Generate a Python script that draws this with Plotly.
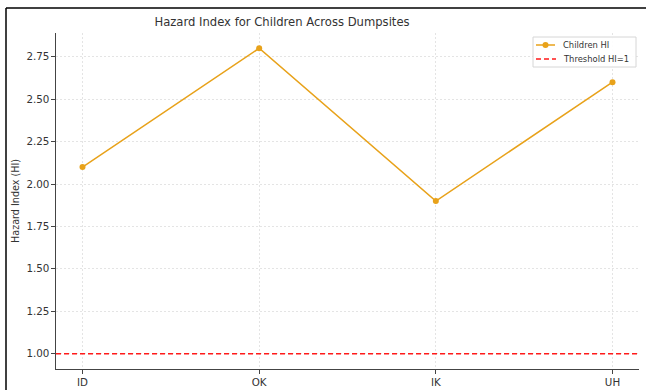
import plotly.graph_objects as go

sites = ["ID", "OK", "IK", "UH"]
children_hi = [2.1, 2.8, 1.9, 2.6]
threshold = 1.0
y_ticks = [1.00, 1.25, 1.50, 1.75, 2.00, 2.25, 2.50, 2.75]
legend_labels = ["Children HI", "Threshold HI=1"]

W, H = 646, 390
ml, mr, mt, mb = 56, 7, 33, 21
pw, ph = W - ml - mr, H - mt - mb

ORANGE = "#E8A21A"
RED = "#FF1A1A"


def px(x):
    return (x - ml) / pw


def py(y):
    return 1 - (y - mt) / ph


xs = list(range(len(sites)))

fig = go.Figure()
fig.add_trace(go.Scatter(
    x=xs, y=children_hi, mode="lines+markers", name=legend_labels[0],
    line=dict(color=ORANGE, width=1.5),
    marker=dict(color=ORANGE, size=6),
    showlegend=False,
))
fig.add_hline(y=threshold, layer="above",
              line=dict(color=RED, width=1.6, dash="5px,3px"))

# figure frame (left and top edges)
fx, fy = px(6), py(8)
fig.add_shape(type="line", xref="paper", yref="paper", x0=fx, x1=fx, y0=fy, y1=-0.2,
              line=dict(color="black", width=1.5))
fig.add_shape(type="line", xref="paper", yref="paper", x0=fx, x1=1.2, y0=fy, y1=fy,
              line=dict(color="black", width=1.5))

# legend (drawn manually to match compact layout)
fig.add_shape(type="rect", xref="paper", yref="paper",
              x0=px(533), x1=px(636), y0=py(37), y1=py(67),
              line=dict(color="#d6d6d6", width=1), fillcolor="rgba(255,255,255,0.9)")
fig.add_shape(type="line", xref="paper", yref="paper",
              x0=px(536), x1=px(555), y0=py(45), y1=py(45),
              line=dict(color=ORANGE, width=1.5))
fig.add_shape(type="circle", xref="paper", yref="paper",
              x0=px(542.5), x1=px(548.5), y0=py(42), y1=py(48),
              line=dict(color=ORANGE, width=0), fillcolor=ORANGE)
fig.add_shape(type="line", xref="paper", yref="paper",
              x0=px(536), x1=px(556), y0=py(59), y1=py(59),
              line=dict(color=RED, width=1.5, dash="5px,3px"))
for label, yy in zip(legend_labels, [45, 59]):
    fig.add_annotation(text=label, xref="paper", yref="paper", x=px(561), y=py(yy),
                       xanchor="left", yanchor="middle", showarrow=False,
                       font=dict(size=8.4, color="#333333"))

grid = dict(showgrid=True, gridcolor="#e4e4e4", griddash="2px,2px", gridwidth=1)
axis_common = dict(showline=True, linecolor="#444444", linewidth=1.2,
                   ticks="outside", ticklen=3.5, tickcolor="#444444", zeroline=False,
                   tickfont=dict(size=10.3), automargin=False)

fig.update_layout(
    width=W, height=H,
    margin=dict(l=ml, r=mr, t=mt, b=mb),
    paper_bgcolor="white", plot_bgcolor="white",
    font=dict(family="DejaVu Sans", size=9.3, color="#333333"),
    title=dict(text="Hazard Index for Children Across Dumpsites",
               x=282 / W, xanchor="center", xref="container",
               y=1 - 22 / H, yanchor="middle",
               font=dict(size=11.6, color="#333333")),
    showlegend=False,
    xaxis=dict(range=[-0.15, 3.15], tickmode="array", tickvals=xs, ticktext=sites,
               **grid, **axis_common),
    yaxis=dict(range=[0.91, 2.89], tickmode="array", tickvals=y_ticks,
               ticktext=[f"{v:.2f}" for v in y_ticks],
               title=dict(text="Hazard Index (HI)", standoff=5, font=dict(size=9.6)),
               **grid, **axis_common),
)

fig.write_html("out.html", config={"displayModeBar": False},
               post_script="document.body.style.margin='0';document.body.style.overflow='hidden';")
